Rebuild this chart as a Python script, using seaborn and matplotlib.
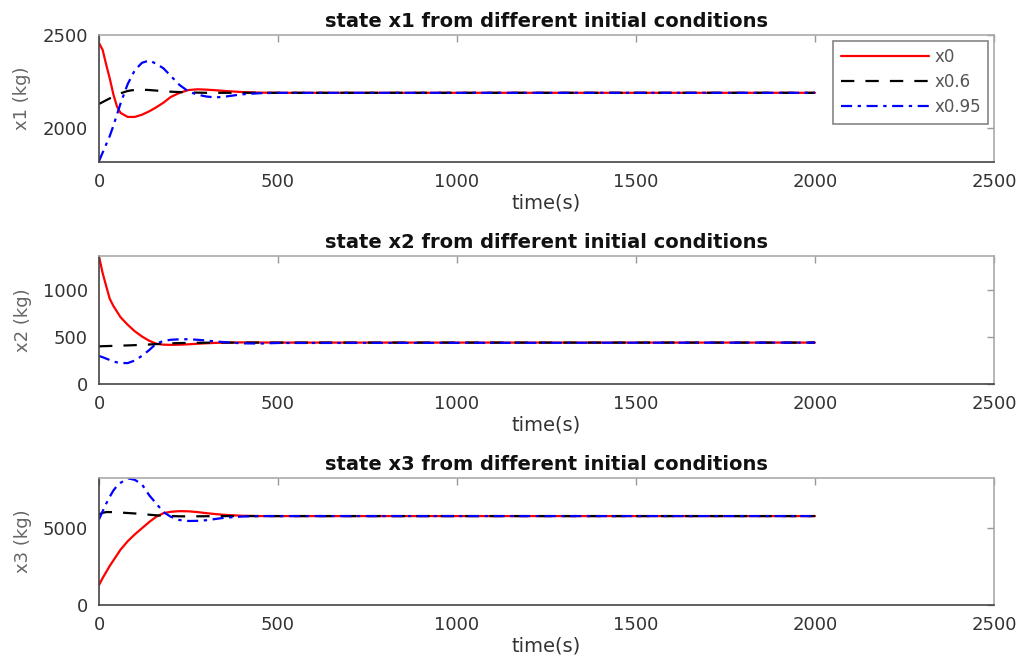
import matplotlib
matplotlib.use("Agg")
import matplotlib.pyplot as plt
import seaborn as sns

sns.set_style("white")
plt.rcParams["font.family"] = ["DejaVu Sans"]

# sample times (s)
t = [0, 10, 20, 30, 40, 50, 60, 80, 100, 120, 140, 160, 180, 200, 225, 250,
     275, 300, 325, 350, 400, 450, 500, 2000]

# state x1 (kg)
x1_x0 = [2456, 2420, 2340, 2265, 2180, 2115, 2080, 2058, 2058, 2070, 2088, 2110,
         2135, 2165, 2188, 2203, 2207, 2205, 2202, 2198, 2192, 2189, 2188, 2188]
x1_x06 = [2128, 2138, 2148, 2158, 2166, 2175, 2185, 2198, 2204, 2205, 2203, 2200,
          2197, 2194, 2192, 2190, 2189, 2188, 2188, 2188, 2188, 2188, 2188, 2188]
x1_x095 = [1820, 1865, 1910, 1955, 2010, 2070, 2130, 2235, 2310, 2350, 2362, 2345,
           2320, 2280, 2230, 2195, 2178, 2168, 2163, 2167, 2180, 2186, 2188, 2188]

# state x2 (kg)
x2_x0 = [1354, 1180, 1040, 905, 830, 770, 710, 630, 560, 505, 460, 428,
         418, 416, 418, 422, 428, 433, 437, 440, 442, 441, 440, 440]
x2_x06 = [400, 402, 403, 404, 405, 406, 408, 410, 413, 417, 420, 424,
          428, 432, 435, 437, 438, 439, 440, 440, 440, 440, 440, 440]
x2_x095 = [298, 285, 270, 255, 240, 230, 224, 222, 250, 300, 360, 430,
           458, 470, 475, 476, 470, 462, 452, 445, 432, 430, 436, 440]

# state x3 (kg)
x3_x0 = [1300, 1750, 2150, 2550, 2900, 3250, 3600, 4150, 4600, 5000, 5400, 5750,
         5980, 6070, 6110, 6100, 6050, 5980, 5920, 5870, 5810, 5790, 5790, 5790]
x3_x06 = [5900, 6000, 6050, 6050, 6050, 6035, 6020, 5990, 5960, 5920, 5880, 5840,
          5810, 5790, 5775, 5770, 5775, 5780, 5785, 5790, 5790, 5790, 5790, 5790]
x3_x095 = [5577, 6100, 6600, 7050, 7450, 7750, 7950, 8250, 8150, 7850, 7150, 6600,
           6050, 5750, 5530, 5470, 5480, 5520, 5600, 5680, 5760, 5790, 5790, 5790]

labels = ["x0", "x0.6", "x0.95"]
titles = ["state x1 from different initial conditions",
          "state x2 from different initial conditions",
          "state x3 from different initial conditions"]
ylabels = ["x1 (kg)", "x2 (kg)", "x3 (kg)"]
yticks = [[2000, 2500], [0, 500, 1000], [0, 5000]]
ylims = [(1815, 2500), (0, 1360), (0, 8270)]
xticks = [0, 500, 1000, 1500, 2000, 2500]

series = [[x1_x0, x1_x06, x1_x095],
          [x2_x0, x2_x06, x2_x095],
          [x3_x0, x3_x06, x3_x095]]

styles = [dict(color="#ff0000", linestyle="-"),
          dict(color="#000000", linestyle=(0, (6, 5))),
          dict(color="#0000ff", linestyle=(0, (5, 2.5, 1.5, 2.5)))]

fig = plt.figure(figsize=(10.22, 6.66), dpi=100)
positions = [[0.0969, 0.7568, 0.8757, 0.1907],
             [0.0969, 0.4234, 0.8757, 0.1922],
             [0.0969, 0.0916, 0.8757, 0.1907]]

for i in range(3):
    ax = fig.add_axes(positions[i])
    for vals, lab, st in zip(series[i], labels, styles):
        sns.lineplot(x=t, y=vals, ax=ax, label=lab, linewidth=1.6, **st)
    ax.set_xlim(0, 2500)
    ax.set_ylim(*ylims[i])
    ax.set_xticks(xticks)
    ax.set_yticks(yticks[i])
    ax.tick_params(axis="both", direction="in", length=5, width=1.0,
                   labelsize=13, labelcolor="#333333", color="#999999",
                   top=True, right=True, pad=8)
    for side in ["top", "right"]:
        ax.spines[side].set_color("#aaaaaa")
    for side in ["left", "bottom"]:
        ax.spines[side].set_color("#444444")
    for sp in ax.spines.values():
        sp.set_linewidth(1.2)
    ax.set_title(titles[i], fontsize=14, fontweight="bold", pad=6,
                 color="#111111")
    ax.set_xlabel("time(s)", fontsize=14, labelpad=2, color="#333333")
    ax.set_ylabel(ylabels[i], fontsize=13, labelpad=8, color="#666666")
    if i == 0:
        leg = ax.legend(loc="upper right", fontsize=12, frameon=True,
                        fancybox=False, edgecolor="#666666", handlelength=5.3,
                        handletextpad=0.3, borderaxespad=0.35,
                        labelspacing=0.42, borderpad=0.45)
        leg.get_frame().set_linewidth(1.2)
        for txt in leg.get_texts():
            txt.set_color("#555555")
    else:
        ax.get_legend().remove()

fig.savefig("out.png", dpi=100, facecolor="white")
